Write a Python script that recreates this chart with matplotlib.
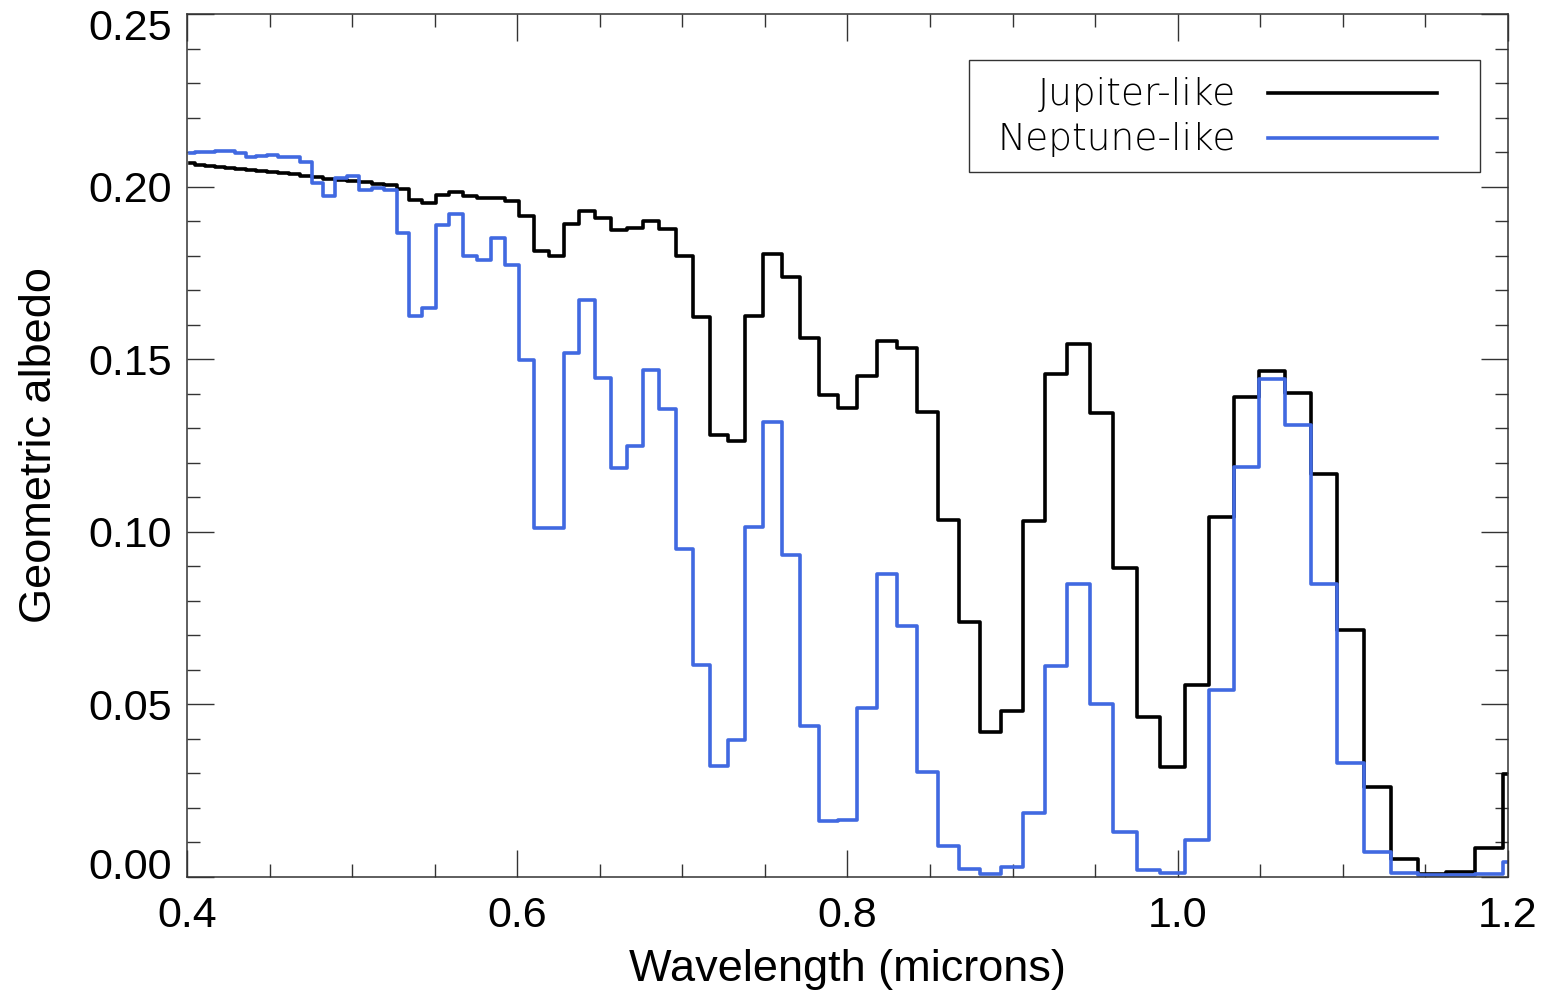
import matplotlib
matplotlib.use('Agg')
import matplotlib.pyplot as plt
from matplotlib.patches import Rectangle
from matplotlib.transforms import ScaledTranslation

# bin centres of the albedo spectra (microns)
wavelength = [
    0.4018, 0.4077, 0.4137, 0.4198, 0.4260, 0.4323, 0.4387, 0.4452, 0.4518, 0.4584,
    0.4652, 0.4721, 0.4790, 0.4861, 0.4933, 0.5006, 0.5080, 0.5155, 0.5231, 0.5308,
    0.5386, 0.5466, 0.5547, 0.5628, 0.5712, 0.5796, 0.5881, 0.5968, 0.6056, 0.6146,
    0.6236, 0.6329, 0.6422, 0.6517, 0.6613, 0.6711, 0.6810, 0.6910, 0.7012, 0.7116,
    0.7221, 0.7327, 0.7435, 0.7545, 0.7657, 0.7770, 0.7884, 0.8001, 0.8119, 0.8239,
    0.8360, 0.8484, 0.8609, 0.8736, 0.8865, 0.8996, 0.9129, 0.9264, 0.9400, 0.9539,
    0.9680, 0.9823, 0.9968, 1.0115, 1.0264, 1.0416, 1.0569, 1.0725, 1.0884, 1.1044,
    1.1207, 1.1373, 1.1541, 1.1711, 1.1884, 1.2059,
]

jupiter_like = [
    0.2067, 0.2064, 0.2061, 0.2058, 0.2055, 0.2052, 0.2049, 0.2046, 0.2043, 0.2040,
    0.2036, 0.2032, 0.2027, 0.2023, 0.2019, 0.2016, 0.2012, 0.2009, 0.2006, 0.1994,
    0.1961, 0.1953, 0.1975, 0.1983, 0.1972, 0.1966, 0.1968, 0.1958, 0.1915, 0.1814,
    0.1799, 0.1893, 0.1929, 0.1908, 0.1874, 0.1879, 0.1901, 0.1877, 0.1798, 0.1621,
    0.1281, 0.1263, 0.1625, 0.1805, 0.1739, 0.1561, 0.1395, 0.1358, 0.1452, 0.1554,
    0.1533, 0.1348, 0.1033, 0.0740, 0.0420, 0.0482, 0.1030, 0.1456, 0.1543, 0.1344,
    0.0895, 0.0464, 0.0319, 0.0556, 0.1042, 0.1391, 0.1466, 0.1401, 0.1167, 0.0717,
    0.0260, 0.0051, 0.0010, 0.0015, 0.0083, 0.0297,
]

neptune_like = [
    0.2098, 0.2099, 0.2101, 0.2103, 0.2103, 0.2096, 0.2085, 0.2088, 0.2091, 0.2086,
    0.2085, 0.2072, 0.2011, 0.1972, 0.2024, 0.2030, 0.1990, 0.1997, 0.1990, 0.1866,
    0.1624, 0.1647, 0.1888, 0.1920, 0.1799, 0.1787, 0.1850, 0.1772, 0.1498, 0.1010,
    0.1012, 0.1519, 0.1671, 0.1446, 0.1184, 0.1248, 0.1468, 0.1356, 0.0950, 0.0614,
    0.0323, 0.0397, 0.1014, 0.1317, 0.0934, 0.0437, 0.0162, 0.0165, 0.0490, 0.0878,
    0.0726, 0.0305, 0.0090, 0.0022, 0.0008, 0.0029, 0.0184, 0.0611, 0.0849, 0.0500,
    0.0130, 0.0019, 0.0012, 0.0106, 0.0543, 0.1187, 0.1444, 0.1309, 0.0848, 0.0329,
    0.0073, 0.0013, 0.0006, 0.0006, 0.0010, 0.0044,
]

xticks = [0.4, 0.6, 0.8, 1.0, 1.2]
yticks = [0.00, 0.05, 0.10, 0.15, 0.20, 0.25]
labels = ['Jupiter-like', 'Neptune-like']
colors = ['black', '#4169E1']

plt.rcParams['font.family'] = ['Liberation Sans', 'DejaVu Sans']

fig = plt.figure(figsize=(15.53, 9.94), dpi=100)
ax = fig.add_axes([0.1204, 0.1177, 0.8506, 0.8682])

ax.step(wavelength, jupiter_like, where='mid', color=colors[0], lw=2.6)
ax.step(wavelength, neptune_like, where='mid', color=colors[1], lw=2.6)

ax.set_xlim(0.4, 1.2)
ax.set_ylim(0.0, 0.25)
ax.set_xticks(xticks)
ax.set_xticklabels(['%.1f' % t for t in xticks])
ax.set_yticks(yticks)
ax.set_yticklabels(['%.2f' % t for t in yticks])
ax.set_xticks([0.45, 0.5, 0.55, 0.65, 0.7, 0.75, 0.85, 0.9, 0.95, 1.05, 1.1, 1.15], minor=True)
ax.set_yticks([i * 0.01 for i in range(26)], minor=True)

ax.tick_params(which='both', direction='in', top=True, right=True, width=1.0, color='#333333')
ax.tick_params(which='major', length=19.5)
ax.tick_params(which='minor', length=9.5)
ax.tick_params(axis='x', labelsize=31, pad=14)
ax.tick_params(axis='y', labelsize=31, pad=11)
for s in ax.spines.values():
    s.set_linewidth(1.1)
    s.set_color('#333333')

# keep the end labels of the y axis inside the frame height
ytick_objs = ax.yaxis.get_major_ticks()
lab0 = ytick_objs[0].label1
lab0.set_transform(lab0.get_transform() + ScaledTranslation(0, 0.14, fig.dpi_scale_trans))
labtop = ytick_objs[-1].label1
labtop.set_transform(labtop.get_transform() + ScaledTranslation(0, -0.10, fig.dpi_scale_trans))

ax.set_xlabel('Wavelength (microns)', fontsize=32.5, labelpad=9)
ax.set_ylabel('Geometric albedo', fontsize=32.5, labelpad=20)

# legend box drawn by hand: text on the left, line sample on the right
ax.add_patch(Rectangle((0.592, 0.8169), 0.3868, 0.1298, transform=ax.transAxes,
                       fill=False, edgecolor='#333333', lw=1.0, zorder=5))
for row, (lab, col) in enumerate(zip(labels, colors)):
    yy = 0.9065 - row * 0.0522
    ax.text(0.7941, yy, lab, transform=ax.transAxes, ha='right', va='center',
            fontsize=27, family=['DejaVu Sans'], fontweight='light', zorder=6)
    ax.plot([0.8183, 0.9463], [yy + 0.002, yy + 0.002], transform=ax.transAxes,
            color=col, lw=2.6, zorder=6)

fig.savefig('out.png', dpi=100)
